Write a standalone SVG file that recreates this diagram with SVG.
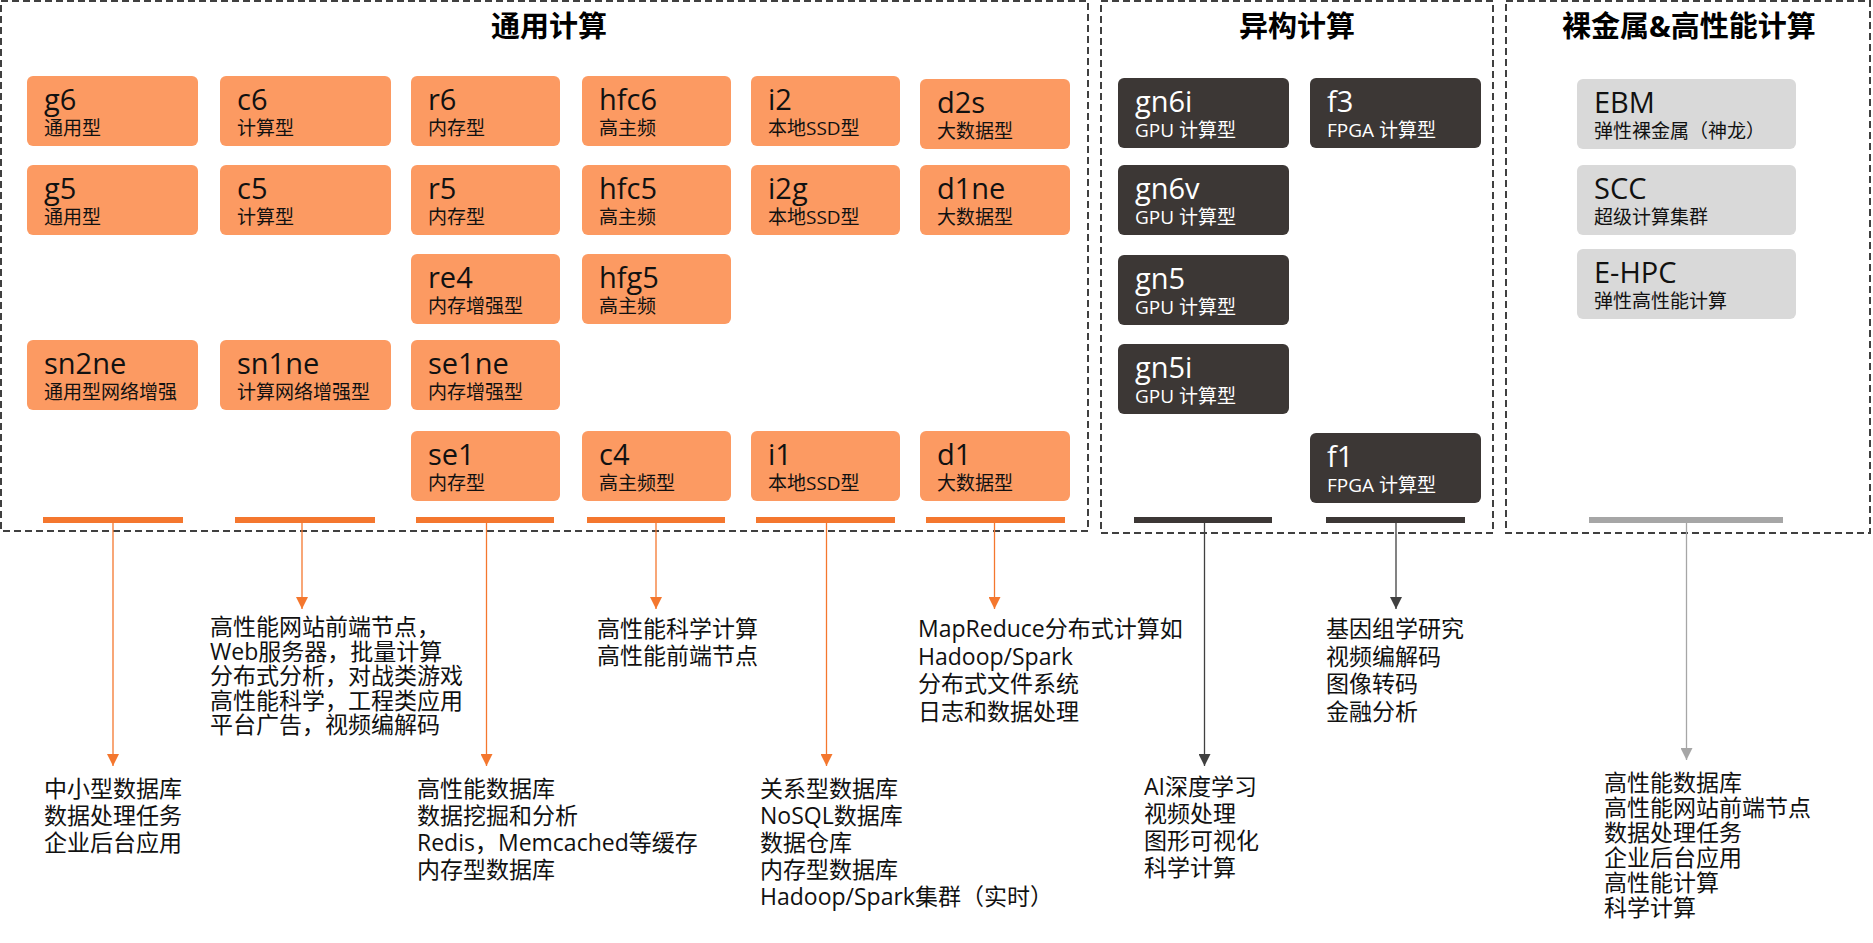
<svg xmlns="http://www.w3.org/2000/svg" width="1873" height="943" viewBox="0 0 1873 943">
<style>
.t{font-family:'Open Sans','Noto Sans CJK SC',sans-serif}
.nt{font-size:29px;fill:#111}
.ns{font-size:19px;fill:#111}
.wt{fill:#fff}
.o{fill:#FC9A62}
.d{fill:#3C3735}
.g{fill:#D9D9D9}
.bo{fill:#F4772E}
.bd{fill:#3C3735}
.bg{fill:#A6A6A6}
.body{font-size:23px;fill:#111}
.h{font-size:29px;font-weight:bold;text-anchor:middle;fill:#000}
.frame{fill:none;stroke:#404040;stroke-width:2;stroke-dasharray:7 4}
.co{stroke:#F4772E;stroke-width:1.3;fill:none;marker-end:url(#ao)}
.cd{stroke:#404040;stroke-width:1.3;fill:none;marker-end:url(#ad)}
.cg{stroke:#A6A6A6;stroke-width:1.3;fill:none;marker-end:url(#ag)}
</style>
<defs>
<marker id="ao" markerUnits="userSpaceOnUse" markerWidth="12" markerHeight="12" refX="12" refY="6" orient="auto"><path d="M0,0 L12,6 L0,12 z" fill="#F4772E"/></marker>
<marker id="ad" markerUnits="userSpaceOnUse" markerWidth="12" markerHeight="12" refX="12" refY="6" orient="auto"><path d="M0,0 L12,6 L0,12 z" fill="#404040"/></marker>
<marker id="ag" markerUnits="userSpaceOnUse" markerWidth="12" markerHeight="12" refX="12" refY="6" orient="auto"><path d="M0,0 L12,6 L0,12 z" fill="#A6A6A6"/></marker>
</defs>
<rect width="1873" height="943" fill="#fff"/>

<g id="frames">
<rect class="frame" x="1" y="1" width="1087" height="530"/>
<rect class="frame" x="1101" y="1" width="392" height="532"/>
<rect class="frame" x="1506" y="1" width="364" height="532"/>
<text class="t h" x="549" y="37">通用计算</text>
<text class="t h" x="1297" y="37">异构计算</text>
<text class="t h" x="1689" y="37">裸金属&amp;高性能计算</text>
</g>

<g id="n-g6"><rect class="o" x="27" y="76" width="171" height="70" rx="6"/><text class="t nt" x="44" y="110">g6</text><text class="t ns" x="44" y="135">通用型</text></g>
<g id="n-g5"><rect class="o" x="27" y="165" width="171" height="70" rx="6"/><text class="t nt" x="44" y="199">g5</text><text class="t ns" x="44" y="224">通用型</text></g>
<g id="n-sn2ne"><rect class="o" x="27" y="340" width="171" height="70" rx="6"/><text class="t nt" x="44" y="374">sn2ne</text><text class="t ns" x="44" y="399">通用型网络增强</text></g>

<g id="n-c6"><rect class="o" x="220" y="76" width="171" height="70" rx="6"/><text class="t nt" x="237" y="110">c6</text><text class="t ns" x="237" y="135">计算型</text></g>
<g id="n-c5"><rect class="o" x="220" y="165" width="171" height="70" rx="6"/><text class="t nt" x="237" y="199">c5</text><text class="t ns" x="237" y="224">计算型</text></g>
<g id="n-sn1ne"><rect class="o" x="220" y="340" width="171" height="70" rx="6"/><text class="t nt" x="237" y="374">sn1ne</text><text class="t ns" x="237" y="399">计算网络增强型</text></g>

<g id="n-r6"><rect class="o" x="411" y="76" width="149" height="70" rx="6"/><text class="t nt" x="428" y="110">r6</text><text class="t ns" x="428" y="135">内存型</text></g>
<g id="n-r5"><rect class="o" x="411" y="165" width="149" height="70" rx="6"/><text class="t nt" x="428" y="199">r5</text><text class="t ns" x="428" y="224">内存型</text></g>
<g id="n-re4"><rect class="o" x="411" y="254" width="149" height="70" rx="6"/><text class="t nt" x="428" y="288">re4</text><text class="t ns" x="428" y="313">内存增强型</text></g>
<g id="n-se1ne"><rect class="o" x="411" y="340" width="149" height="70" rx="6"/><text class="t nt" x="428" y="374">se1ne</text><text class="t ns" x="428" y="399">内存增强型</text></g>
<g id="n-se1"><rect class="o" x="411" y="431" width="149" height="70" rx="6"/><text class="t nt" x="428" y="465">se1</text><text class="t ns" x="428" y="490">内存型</text></g>

<g id="n-hfc6"><rect class="o" x="582" y="76" width="149" height="70" rx="6"/><text class="t nt" x="599" y="110">hfc6</text><text class="t ns" x="599" y="135">高主频</text></g>
<g id="n-hfc5"><rect class="o" x="582" y="165" width="149" height="70" rx="6"/><text class="t nt" x="599" y="199">hfc5</text><text class="t ns" x="599" y="224">高主频</text></g>
<g id="n-hfg5"><rect class="o" x="582" y="254" width="149" height="70" rx="6"/><text class="t nt" x="599" y="288">hfg5</text><text class="t ns" x="599" y="313">高主频</text></g>
<g id="n-c4"><rect class="o" x="582" y="431" width="149" height="70" rx="6"/><text class="t nt" x="599" y="465">c4</text><text class="t ns" x="599" y="490">高主频型</text></g>

<g id="n-i2"><rect class="o" x="751" y="76" width="149" height="70" rx="6"/><text class="t nt" x="768" y="110">i2</text><text class="t ns" x="768" y="135">本地SSD型</text></g>
<g id="n-i2g"><rect class="o" x="751" y="165" width="149" height="70" rx="6"/><text class="t nt" x="768" y="199">i2g</text><text class="t ns" x="768" y="224">本地SSD型</text></g>
<g id="n-i1"><rect class="o" x="751" y="431" width="149" height="70" rx="6"/><text class="t nt" x="768" y="465">i1</text><text class="t ns" x="768" y="490">本地SSD型</text></g>

<g id="n-d2s"><rect class="o" x="920" y="79" width="150" height="70" rx="6"/><text class="t nt" x="937" y="113">d2s</text><text class="t ns" x="937" y="138">大数据型</text></g>
<g id="n-d1ne"><rect class="o" x="920" y="165" width="150" height="70" rx="6"/><text class="t nt" x="937" y="199">d1ne</text><text class="t ns" x="937" y="224">大数据型</text></g>
<g id="n-d1"><rect class="o" x="920" y="431" width="150" height="70" rx="6"/><text class="t nt" x="937" y="465">d1</text><text class="t ns" x="937" y="490">大数据型</text></g>

<g id="n-gn6i"><rect class="d" x="1118" y="78" width="171" height="70" rx="6"/><text class="t nt wt" x="1135" y="112">gn6i</text><text class="t ns wt" x="1135" y="137">GPU 计算型</text></g>
<g id="n-gn6v"><rect class="d" x="1118" y="165" width="171" height="70" rx="6"/><text class="t nt wt" x="1135" y="199">gn6v</text><text class="t ns wt" x="1135" y="224">GPU 计算型</text></g>
<g id="n-gn5"><rect class="d" x="1118" y="255" width="171" height="70" rx="6"/><text class="t nt wt" x="1135" y="289">gn5</text><text class="t ns wt" x="1135" y="314">GPU 计算型</text></g>
<g id="n-gn5i"><rect class="d" x="1118" y="344" width="171" height="70" rx="6"/><text class="t nt wt" x="1135" y="378">gn5i</text><text class="t ns wt" x="1135" y="403">GPU 计算型</text></g>
<g id="n-f3"><rect class="d" x="1310" y="78" width="171" height="70" rx="6"/><text class="t nt wt" x="1327" y="112">f3</text><text class="t ns wt" x="1327" y="137">FPGA 计算型</text></g>
<g id="n-f1"><rect class="d" x="1310" y="433" width="171" height="70" rx="6"/><text class="t nt wt" x="1327" y="467">f1</text><text class="t ns wt" x="1327" y="492">FPGA 计算型</text></g>

<g id="n-ebm"><rect class="g" x="1577" y="79" width="219" height="70" rx="6"/><text class="t nt" x="1594" y="113">EBM</text><text class="t ns" x="1594" y="138">弹性裸金属（神龙）</text></g>
<g id="n-scc"><rect class="g" x="1577" y="165" width="219" height="70" rx="6"/><text class="t nt" x="1594" y="199">SCC</text><text class="t ns" x="1594" y="224">超级计算集群</text></g>
<g id="n-ehpc"><rect class="g" x="1577" y="249" width="219" height="70" rx="6"/><text class="t nt" x="1594" y="283">E-HPC</text><text class="t ns" x="1594" y="308">弹性高性能计算</text></g>

<g id="bars">
<rect class="bo" x="43" y="517" width="140" height="6"/>
<rect class="bo" x="235" y="517" width="140" height="6"/>
<rect class="bo" x="416" y="517" width="138" height="6"/>
<rect class="bo" x="587" y="517" width="138" height="6"/>
<rect class="bo" x="756" y="517" width="139" height="6"/>
<rect class="bo" x="926" y="517" width="139" height="6"/>
<rect class="bd" x="1134" y="517" width="138" height="6"/>
<rect class="bd" x="1326" y="517" width="139" height="6"/>
<rect class="bg" x="1589" y="517" width="194" height="6"/>
</g>

<g id="connectors">
<path class="co" d="M113,523 V766"/>
<path class="co" d="M302,523 V609"/>
<path class="co" d="M486.5,523 V766"/>
<path class="co" d="M656,523 V609"/>
<path class="co" d="M826.5,523 V766"/>
<path class="co" d="M994.5,523 V609"/>
<path class="cd" d="M1204.5,523 V766"/>
<path class="cd" d="M1396,523 V609"/>
<path class="cg" d="M1686.5,523 V760"/>
</g>

<g id="uses">
<text class="t body" x="44"><tspan x="44" y="797">中小型数据库</tspan><tspan x="44" y="824">数据处理任务</tspan><tspan x="44" y="851">企业后台应用</tspan></text>
<text class="t body"><tspan x="210" y="635">高性能网站前端节点，</tspan><tspan x="210" y="659.5">Web服务器，批量计算</tspan><tspan x="210" y="684">分布式分析，对战类游戏</tspan><tspan x="210" y="708.5">高性能科学，工程类应用</tspan><tspan x="210" y="733">平台广告，视频编解码</tspan></text>
<text class="t body"><tspan x="417" y="797">高性能数据库</tspan><tspan x="417" y="824">数据挖掘和分析</tspan><tspan x="417" y="851">Redis，Memcached等缓存</tspan><tspan x="417" y="878">内存型数据库</tspan></text>
<text class="t body"><tspan x="597" y="637">高性能科学计算</tspan><tspan x="597" y="664">高性能前端节点</tspan></text>
<text class="t body"><tspan x="760" y="797">关系型数据库</tspan><tspan x="760" y="824">NoSQL数据库</tspan><tspan x="760" y="851">数据仓库</tspan><tspan x="760" y="878">内存型数据库</tspan><tspan x="760" y="905">Hadoop/Spark集群（实时）</tspan></text>
<text class="t body"><tspan x="918" y="637">MapReduce分布式计算如</tspan><tspan x="918" y="664.5">Hadoop/Spark</tspan><tspan x="918" y="692">分布式文件系统</tspan><tspan x="918" y="719.5">日志和数据处理</tspan></text>
<text class="t body"><tspan x="1326" y="637">基因组学研究</tspan><tspan x="1326" y="664.5">视频编解码</tspan><tspan x="1326" y="692">图像转码</tspan><tspan x="1326" y="719.5">金融分析</tspan></text>
<text class="t body"><tspan x="1144" y="795">AI深度学习</tspan><tspan x="1144" y="822">视频处理</tspan><tspan x="1144" y="849">图形可视化</tspan><tspan x="1144" y="876">科学计算</tspan></text>
<text class="t body"><tspan x="1604" y="791">高性能数据库</tspan><tspan x="1604" y="816">高性能网站前端节点</tspan><tspan x="1604" y="841">数据处理任务</tspan><tspan x="1604" y="866">企业后台应用</tspan><tspan x="1604" y="891">高性能计算</tspan><tspan x="1604" y="916">科学计算</tspan></text>
</g>
</svg>
